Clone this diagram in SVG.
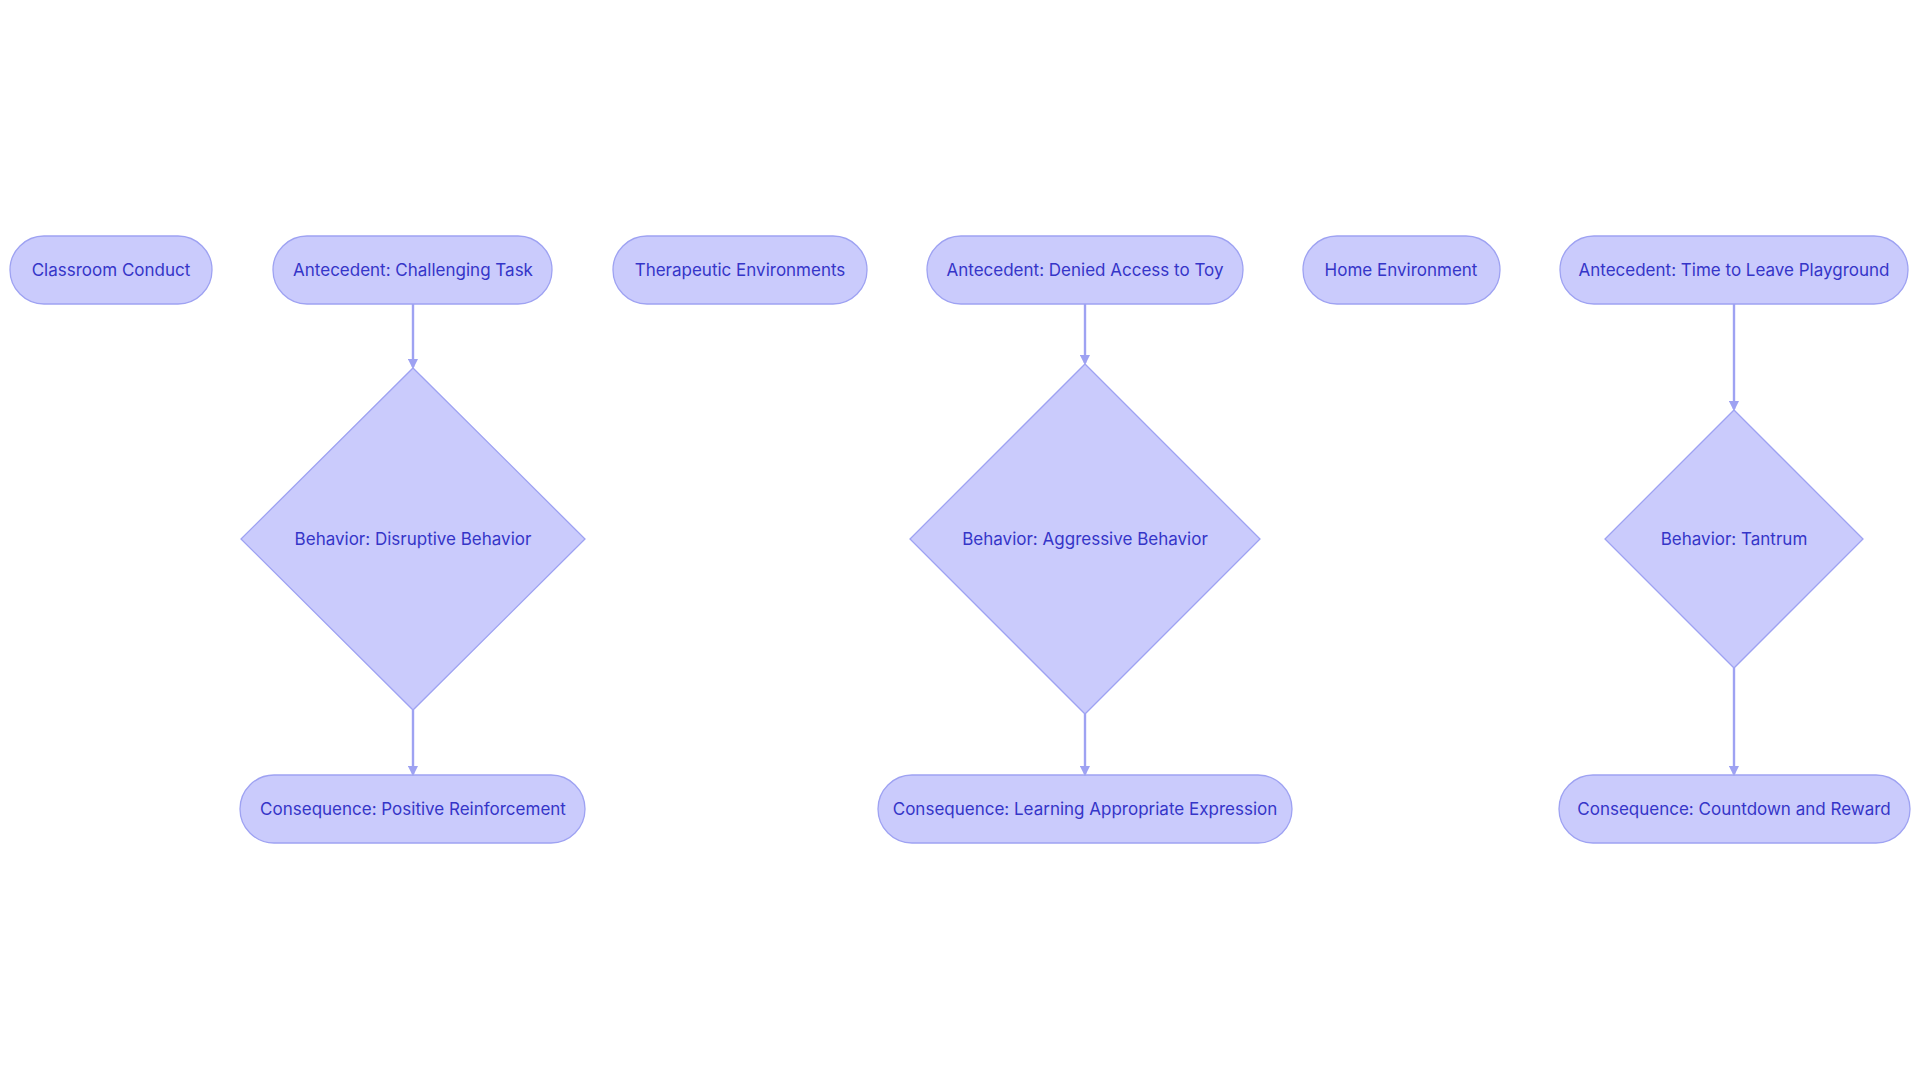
<svg xmlns="http://www.w3.org/2000/svg" width="1920" height="1083" viewBox="0 0 1920 1083">
<style>
.n{fill:#cacbfc;stroke:#9ea2f2;stroke-width:1.3}
.t{font-family:Inter,"Noto Sans",sans-serif;font-size:17px;fill:#3535c8;text-anchor:middle;dominant-baseline:central}
.e{stroke:#9ea2f2;stroke-width:2.4;fill:none;marker-end:url(#a)}
</style>
<defs><marker id="a" markerWidth="10" markerHeight="10" refX="8" refY="5" orient="auto" markerUnits="userSpaceOnUse"><path d="M0,0L10,5L0,10z" fill="#9ea2f2" transform="scale(1.2) translate(-1.5,-0.8)"/></marker></defs>
<rect width="1920" height="1083" fill="#fff"/>
<g id="classroom"><rect class="n" x="10" y="236" width="202" height="68" rx="34"/><text class="t" x="111" y="270">Classroom Conduct</text></g>
<g id="ant1"><rect class="n" x="273" y="236" width="279" height="68" rx="34"/><text class="t" x="413" y="270">Antecedent: Challenging Task</text></g>
<g id="therapeutic"><rect class="n" x="613" y="236" width="254" height="68" rx="34"/><text class="t" x="740" y="270">Therapeutic Environments</text></g>
<g id="ant2"><rect class="n" x="927" y="236" width="316" height="68" rx="34"/><text class="t" x="1085" y="270">Antecedent: Denied Access to Toy</text></g>
<g id="home"><rect class="n" x="1303" y="236" width="197" height="68" rx="34"/><text class="t" x="1401" y="270">Home Environment</text></g>
<g id="ant3"><rect class="n" x="1560" y="236" width="348" height="68" rx="34"/><text class="t" x="1734" y="270">Antecedent: Time to Leave Playground</text></g>
<g id="beh1"><polygon class="n" points="413,368 585,539 413,710 241,539"/><text class="t" x="413" y="539">Behavior: Disruptive Behavior</text></g>
<g id="beh2"><polygon class="n" points="1085,364 1260,539 1085,714 910,539"/><text class="t" x="1085" y="539">Behavior: Aggressive Behavior</text></g>
<g id="beh3"><polygon class="n" points="1734,410 1863,539 1734,668 1605,539"/><text class="t" x="1734" y="539">Behavior: Tantrum</text></g>
<g id="con1"><rect class="n" x="240" y="775" width="345" height="68" rx="34"/><text class="t" x="413" y="809">Consequence: Positive Reinforcement</text></g>
<g id="con2"><rect class="n" x="878" y="775" width="414" height="68" rx="34"/><text class="t" x="1085" y="809">Consequence: Learning Appropriate Expression</text></g>
<g id="con3"><rect class="n" x="1559" y="775" width="351" height="68" rx="34"/><text class="t" x="1734" y="809">Consequence: Countdown and Reward</text></g>
<g id="edges">
<path class="e" d="M413,304V367"/>
<path class="e" d="M1085,304V363"/>
<path class="e" d="M1734,304V409"/>
<path class="e" d="M413,710V774"/>
<path class="e" d="M1085,714V774"/>
<path class="e" d="M1734,668V774"/>
</g>
</svg>
